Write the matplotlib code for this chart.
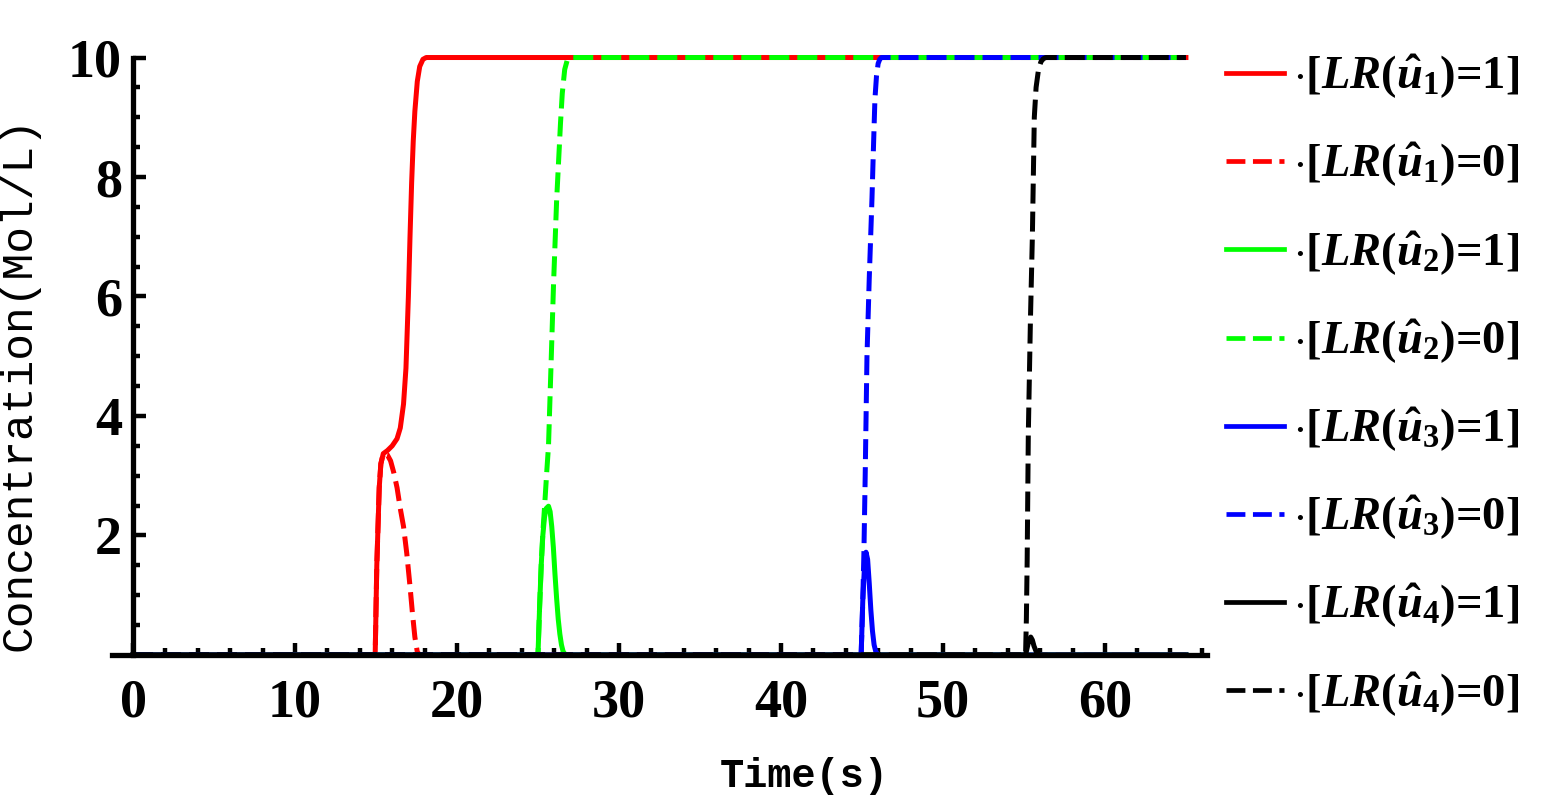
import numpy as np
import matplotlib
matplotlib.use("Agg")
import matplotlib.pyplot as plt
from matplotlib.ticker import MultipleLocator

plt.rcParams['mathtext.fontset'] = 'custom'
plt.rcParams['mathtext.rm'] = 'Liberation Serif:bold'
plt.rcParams['mathtext.it'] = 'Liberation Serif:italic:bold'
plt.rcParams['mathtext.bf'] = 'Liberation Serif:bold'

##################################################################
# Data (time in s, concentration)
##################################################################
u1_on_t = [0, 14.95, 15.05, 15.2, 15.3, 15.45, 15.7, 16.0, 16.3, 16.5, 16.7, 16.85,
           17.0, 17.1, 17.2, 17.3, 17.4, 17.55, 17.7, 17.9, 18.1, 65]
u1_on_y = [0, 0, 1.5, 2.8, 3.2, 3.37, 3.42, 3.5, 3.62, 3.8, 4.2, 4.8,
           6.0, 7.0, 7.9, 8.6, 9.1, 9.6, 9.85, 9.97, 10, 10]

u1_off_t = [0, 14.95, 15.05, 15.2, 15.3, 15.45, 15.7, 15.9, 16.1, 16.3, 16.5, 16.7,
            16.9, 17.1, 17.25, 17.4, 17.55, 17.7, 65]
u1_off_y = [0, 0, 1.5, 2.8, 3.2, 3.37, 3.35, 3.25, 3.05, 2.8, 2.45, 2.15,
            1.7, 1.15, 0.7, 0.3, 0.05, 0, 0]

u2_on_t = [0, 25.0, 25.1, 25.2, 25.3, 25.4, 25.5, 25.65, 25.75, 25.85, 25.95, 26.05,
           26.15, 26.25, 26.35, 26.45, 26.55, 26.7, 65]
u2_on_y = [0, 0, 0.8, 1.5, 2.0, 2.3, 2.45, 2.49, 2.4, 2.15, 1.8, 1.35,
           0.95, 0.6, 0.35, 0.17, 0.06, 0, 0]

u2_off_t = [0, 25.0, 25.1, 25.2, 25.3, 25.4, 25.55, 25.65, 25.8, 25.96, 26.15, 26.39,
            26.5, 26.65, 26.8, 26.95, 65]
u2_off_y = [0, 0, 0.8, 1.5, 2.05, 2.45, 3.1, 3.5, 4.8, 6.2, 7.6, 8.9,
            9.4, 9.8, 9.95, 10, 10]

u3_on_t = [0, 44.95, 45.05, 45.15, 45.25, 45.35, 45.45, 45.55, 45.65, 45.75, 45.85, 46.0, 65]
u3_on_y = [0, 0, 0.9, 1.45, 1.72, 1.6, 1.2, 0.75, 0.4, 0.17, 0.06, 0, 0]

u3_off_t = [0, 44.95, 45.05, 45.12, 45.2, 45.31, 45.45, 45.62, 45.7, 45.8, 45.9, 46.0,
            46.1, 46.2, 65]
u3_off_y = [0, 0, 0.9, 1.7, 3.0, 5.0, 6.3, 7.65, 8.4, 9.3, 9.7, 9.9,
            9.97, 10, 10]

u4_on_t = [0, 55.1, 55.2, 55.3, 55.42, 55.52, 55.62, 55.75, 55.9, 56.07, 65]
u4_on_y = [0, 0, 0.12, 0.24, 0.3, 0.25, 0.15, 0.06, 0.01, 0, 0]

u4_off_t = [0, 55.1, 55.15, 55.2, 55.27, 55.4, 55.52, 55.64, 55.75, 55.9, 56.05,
            56.2, 56.35, 65]
u4_off_y = [0, 0, 0.6, 1.6, 3.7, 5.6, 7.0, 9.0, 9.5, 9.8, 9.93,
            9.98, 10, 10]

colors = ['#ff0000', '#00ff00', '#0000ff', '#000000']
x_ticks = [0, 10, 20, 30, 40, 50, 60]
y_ticks = [2, 4, 6, 8, 10]

series = [
    (u1_on_t, u1_on_y, 0, '-', 1, 1), (u1_off_t, u1_off_y, 0, '--', 1, 0),
    (u2_on_t, u2_on_y, 1, '-', 2, 1), (u2_off_t, u2_off_y, 1, '--', 2, 0),
    (u3_on_t, u3_on_y, 2, '-', 3, 1), (u3_off_t, u3_off_y, 2, '--', 3, 0),
    (u4_on_t, u4_on_y, 3, '-', 4, 1), (u4_off_t, u4_off_y, 3, '--', 4, 0),
]

##################################################################
# Plot figure
##################################################################
fig = plt.figure(figsize=(15.57, 8.09), dpi=100)
ax = fig.add_axes([0.0719, 0.1904, 0.7033, 0.7385])

for t, y, ci, ls, k, val in series:
    style = '-' if ls == '-' else (0, (4.0, 1.6))
    ax.plot(t, y, color=colors[ci], linestyle=style, lw=3.6, clip_on=False,
            label=r'$\cdot$[$LR(\hat{u}_%d)$=%d]' % (k, val))

ax.set_xlim(-1.3, 66.3)
ax.set_ylim(0, 10)

ax.spines['left'].set_position(('data', 0))
ax.spines['top'].set_visible(False)
ax.spines['right'].set_visible(False)
for s in ['left', 'bottom']:
    ax.spines[s].set_linewidth(3.8)
    ax.spines[s].set_zorder(5)
ax.spines['left'].set_bounds(0, 10)

ax.set_xticks(x_ticks)
ax.set_yticks(y_ticks)
ax.xaxis.set_minor_locator(MultipleLocator(2))
ax.yaxis.set_minor_locator(MultipleLocator(0.5))
ax.tick_params(which='major', direction='in', length=9, width=3.2)
ax.tick_params(which='minor', direction='in', length=5, width=3.2)
ax.tick_params(axis='x', which='major', pad=17)
ax.tick_params(axis='y', which='major', pad=8)
for lab in ax.get_xticklabels() + ax.get_yticklabels():
    lab.set_fontfamily('Liberation Serif')
    lab.set_fontweight('bold')
    lab.set_fontsize(39)

ax.set_xlabel('Time(s)', fontfamily='Liberation Mono', fontweight='bold', fontsize=29)
ax.xaxis.set_label_coords(0.632, -0.17)
ax.set_ylabel('Concentration(Mol/L)', fontfamily='Liberation Mono', fontsize=32)
ax.yaxis.set_label_coords(-0.066, 0.455, transform=ax.transAxes)

leg = fig.legend(loc='upper left', bbox_to_anchor=(1226 / 1557, 1 - 53 / 809),
                 frameon=False, handlelength=1.25, handletextpad=0.18,
                 labelspacing=0.86, borderpad=0, borderaxespad=0,
                 prop={'family': 'Liberation Serif', 'weight': 'bold', 'size': 33.5})
for line in leg.get_lines():
    line.set_linewidth(3.4)

plt.savefig('out.png', dpi=100)
